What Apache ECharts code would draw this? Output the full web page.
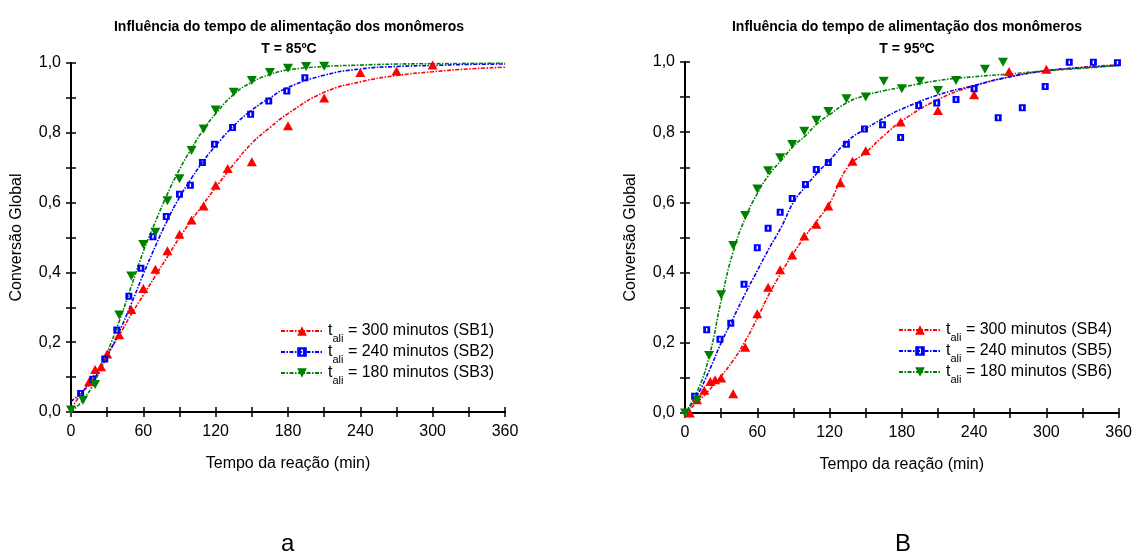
<!DOCTYPE html>
<html>
<head>
<meta charset="utf-8">
<script src="https://cdn.jsdelivr.net/npm/echarts@6/dist/echarts.min.js"></script>
<style>
  html, body { margin: 0; padding: 0; background: #fff; }
  #chart { width: 1135px; height: 560px; }
</style>
</head>
<body>
<div id="chart"></div>
<script>
// ---- dados ----
// T = 85ºC (a)
var t1 = [15, 20, 25, 30, 40, 50, 60, 70, 80, 90, 100, 110, 120, 130, 150, 180, 210, 240, 270, 300];
var v1 = [0.087, 0.122, 0.13, 0.166, 0.221, 0.294, 0.354, 0.409, 0.462, 0.509, 0.55, 0.59, 0.65, 0.698, 0.717, 0.82, 0.90, 0.973, 0.977, 0.994];
var t2 = [8, 18, 28, 38, 48, 58, 68, 79, 90, 99, 109, 119, 134, 149, 164, 179, 194];
var v2 = [0.053, 0.094, 0.152, 0.235, 0.332, 0.412, 0.502, 0.56, 0.624, 0.65, 0.715, 0.767, 0.815, 0.853, 0.891, 0.92, 0.958];
var t3 = [0, 10, 20, 40, 50, 60, 70, 80, 90, 100, 110, 120, 135, 150, 165, 180, 195, 210];
var v3 = [0.006, 0.034, 0.079, 0.278, 0.39, 0.48, 0.515, 0.605, 0.668, 0.749, 0.811, 0.865, 0.916, 0.95, 0.973, 0.985, 0.99, 0.991];

// curvas ajustadas (a)
var tcA = [0, 10, 20, 30, 40, 50, 60, 70, 80, 90, 100, 110, 120, 135, 150, 165, 180, 210, 240, 270, 300, 330, 360];
var c1 = [0.01, 0.06, 0.11, 0.165, 0.22, 0.28, 0.335, 0.39, 0.445, 0.5, 0.55, 0.597, 0.643, 0.71, 0.77, 0.815, 0.855, 0.916, 0.946, 0.964, 0.975, 0.983, 0.988];
var c2 = [0.03, 0.06, 0.1, 0.16, 0.23, 0.31, 0.395, 0.475, 0.55, 0.615, 0.67, 0.72, 0.763, 0.82, 0.865, 0.9, 0.93, 0.965, 0.983, 0.99, 0.993, 0.996, 0.997];
var c3 = [0, 0.035, 0.09, 0.17, 0.26, 0.36, 0.46, 0.545, 0.625, 0.695, 0.755, 0.81, 0.855, 0.91, 0.945, 0.967, 0.98, 0.99, 0.994, 0.997, 0.998, 0.999, 1.0];

// T = 95ºC (B)
var t4 = [4, 10, 16, 21, 25, 30, 40, 50, 60, 69, 79, 89, 99, 109, 119, 129, 139, 150, 179, 210, 240, 269, 300];
var v4 = [0.0, 0.038, 0.065, 0.09, 0.095, 0.10, 0.055, 0.187, 0.283, 0.358, 0.408, 0.45, 0.504, 0.538, 0.59, 0.656, 0.717, 0.747, 0.829, 0.862, 0.907, 0.973, 0.979];
var t5 = [8, 18, 29, 38, 49, 60, 69, 79, 89, 100, 109, 119, 134, 149, 164, 179, 194, 209, 225, 240, 260, 280, 299, 319, 339, 359];
var v5 = [0.048, 0.237, 0.21, 0.256, 0.367, 0.471, 0.526, 0.572, 0.611, 0.651, 0.694, 0.714, 0.766, 0.809, 0.821, 0.785, 0.876, 0.883, 0.893, 0.924, 0.841, 0.870, 0.930, 0.999, 0.999, 0.998];
var t6 = [0, 10, 20, 30, 40, 50, 60, 69, 79, 89, 99, 109, 119, 134, 150, 165, 180, 195, 210, 225, 249, 264];
var v6 = [0.0, 0.038, 0.164, 0.337, 0.477, 0.563, 0.638, 0.69, 0.727, 0.765, 0.803, 0.834, 0.859, 0.895, 0.90, 0.945, 0.924, 0.945, 0.919, 0.947, 0.979, 0.999];

// curvas ajustadas (B)
var tcB = [0, 10, 20, 30, 40, 50, 60, 70, 80, 90, 100, 110, 120, 135, 150, 165, 180, 210, 240, 270, 300, 330, 360];
var c4 = [0, 0.03, 0.065, 0.105, 0.15, 0.205, 0.27, 0.34, 0.40, 0.455, 0.505, 0.55, 0.597, 0.70, 0.742, 0.79, 0.832, 0.893, 0.932, 0.958, 0.975, 0.985, 0.992];
var c5 = [0, 0.05, 0.12, 0.2, 0.27, 0.34, 0.405, 0.47, 0.53, 0.6, 0.645, 0.685, 0.72, 0.775, 0.81, 0.84, 0.866, 0.906, 0.933, 0.958, 0.975, 0.984, 0.99];
var c6 = [0, 0.06, 0.16, 0.32, 0.46, 0.555, 0.625, 0.68, 0.72, 0.76, 0.79, 0.825, 0.85, 0.885, 0.905, 0.918, 0.928, 0.947, 0.958, 0.966, 0.975, 0.982, 0.99];

var xTicks = [0, 60, 120, 180, 240, 300, 360];
var legendA = { SB1: '300 minutos (SB1)', SB2: '240 minutos (SB2)', SB3: '180 minutos (SB3)' };
var legendB = { SB4: '300 minutos (SB4)', SB5: '240 minutos (SB5)', SB6: '180 minutos (SB6)' };

var FONT = "'Liberation Sans', Arial, sans-serif";
var RED = '#ff0000', BLUE = '#0000ff', GREEN = '#008000';
var TRI_UP = 'triangle';
var TRI_DOWN = 'path://M0,0L10,0L5,9Z';
var SQUARE = 'path://M0,0H10V10H0Z M4,2.5V7.5H6V2.5Z';
var DASH = [4, 1.5, 1.5, 1.5];

function pairs(xs, ys) {
  return xs.map(function (x, i) { return [x, ys[i]]; });
}

function xAxes(gi) {
  return [{
    gridIndex: gi, type: 'value', position: 'bottom', min: 0, max: 360, interval: 30,
    name: 'Tempo da reação (min)', nameLocation: 'middle', nameGap: 44,
    nameTextStyle: { fontFamily: FONT, fontSize: 16, color: '#000' },
    axisLine: { lineStyle: { color: '#000', width: 2 } },
    axisTick: { inside: false, length: 5, lineStyle: { color: '#000', width: 1.5 } },
    axisLabel: {
      margin: 12, fontFamily: FONT, fontSize: 16, color: '#000',
      formatter: function (v) { return xTicks.indexOf(v) >= 0 ? String(v) : ''; }
    },
    splitLine: { show: false }
  }, {
    gridIndex: gi, type: 'value', position: 'top', min: 0, max: 360, interval: 30,
    axisLine: { lineStyle: { color: '#000', width: 2 } },
    axisTick: { inside: false, length: 5, lineStyle: { color: '#000', width: 1.5 } },
    axisLabel: { show: false },
    splitLine: { show: false }
  }];
}

function yAxes(gi) {
  return [{
    gridIndex: gi, type: 'value', position: 'left', min: 0, max: 1, interval: 0.1,
    name: 'Conversão Global', nameLocation: 'middle', nameGap: 46, nameRotate: 90,
    nameTextStyle: { fontFamily: FONT, fontSize: 16, color: '#000' },
    axisLine: { lineStyle: { color: '#000', width: 2 } },
    axisTick: { inside: false, length: 5, lineStyle: { color: '#000', width: 1.5 } },
    axisLabel: {
      margin: 10, fontFamily: FONT, fontSize: 16, color: '#000',
      formatter: function (v) {
        var k = Math.round(v * 10);
        return k % 2 === 0 ? (k / 10).toFixed(1).replace('.', ',') : '';
      }
    },
    splitLine: { show: false }
  }, {
    gridIndex: gi, type: 'value', position: 'right', min: 0, max: 1, interval: 0.1,
    axisLine: { lineStyle: { color: '#000', width: 2 } },
    axisTick: { inside: false, length: 5, lineStyle: { color: '#000', width: 1.5 } },
    axisLabel: { show: false },
    splitLine: { show: false }
  }];
}

function curve(name, xi, yi, xs, ys, color, symbol) {
  return {
    name: name, type: 'line', xAxisIndex: xi, yAxisIndex: yi,
    data: pairs(xs, ys), smooth: true, showSymbol: false, symbol: symbol,
    lineStyle: { color: color, width: 1.6, type: DASH },
    itemStyle: { color: color }, silent: true, z: 2
  };
}

function pts(name, xi, yi, xs, ys, color, symbol, size) {
  return {
    name: name, type: 'scatter', xAxisIndex: xi, yAxisIndex: yi,
    data: pairs(xs, ys), symbol: symbol, symbolSize: size,
    itemStyle: { color: color, opacity: 1 }, silent: true, z: 3
  };
}

function legend(names, map, left, top) {
  return {
    data: names, left: left, top: top, orient: 'vertical', padding: 0,
    itemWidth: 42, itemHeight: 12, itemGap: 0, selectedMode: false,
    formatter: function (n) { return '{t|t}{s|ali}{n| = ' + map[n] + '}'; },
    textStyle: {
      fontFamily: FONT, color: '#000',
      rich: {
        t: { fontFamily: FONT, fontSize: 16, lineHeight: 26, color: '#000' },
        s: { fontFamily: FONT, fontSize: 11, lineHeight: 11, verticalAlign: 'bottom', color: '#000' },
        n: { fontFamily: FONT, fontSize: 16, lineHeight: 26, color: '#000' }
      }
    }
  };
}

var chart = echarts.init(document.getElementById('chart'), null, { renderer: 'canvas' });
chart.setOption({
  backgroundColor: '#fff',
  animation: false,
  title: [{
    text: 'Influência do tempo de alimentação dos monômeros\nT = 85ºC',
    left: 289, top: 16, textAlign: 'center', padding: 0,
    textStyle: { fontFamily: FONT, fontSize: 14, fontWeight: 'bold', lineHeight: 22, color: '#000' }
  }, {
    text: 'Influência do tempo de alimentação dos monômeros\nT = 95ºC',
    left: 907, top: 16, textAlign: 'center', padding: 0,
    textStyle: { fontFamily: FONT, fontSize: 14, fontWeight: 'bold', lineHeight: 22, color: '#000' }
  }],
  grid: [
    { left: 71, top: 63, width: 434, height: 349 },
    { left: 685, top: 62, width: 436, height: 351 }
  ],
  xAxis: xAxes(0).concat(xAxes(1)),
  yAxis: yAxes(0).concat(yAxes(1)),
  legend: [
    legend(['SB1', 'SB2', 'SB3'], legendA, 280, 323),
    legend(['SB4', 'SB5', 'SB6'], legendB, 898, 322)
  ],
  series: [
    curve('SB1', 0, 0, tcA, c1, RED, TRI_UP),
    curve('SB2', 0, 0, tcA, c2, BLUE, SQUARE),
    curve('SB3', 0, 0, tcA, c3, GREEN, TRI_DOWN),
    pts('SB1 exp', 0, 0, t1, v1, RED, TRI_UP, [10, 9]),
    pts('SB2 exp', 0, 0, t2, v2, BLUE, SQUARE, 7),
    pts('SB3 exp', 0, 0, t3, v3, GREEN, TRI_DOWN, [10, 9]),
    curve('SB4', 2, 2, tcB, c4, RED, TRI_UP),
    curve('SB5', 2, 2, tcB, c5, BLUE, SQUARE),
    curve('SB6', 2, 2, tcB, c6, GREEN, TRI_DOWN),
    pts('SB4 exp', 2, 2, t4, v4, RED, TRI_UP, [10, 9]),
    pts('SB5 exp', 2, 2, t5, v5, BLUE, SQUARE, 7),
    pts('SB6 exp', 2, 2, t6, v6, GREEN, TRI_DOWN, [10, 9])
  ],
  graphic: [
    { type: 'text', left: 281, top: 532, style: { text: 'a', fontFamily: FONT, fontSize: 24, fill: '#000' } },
    { type: 'text', left: 895, top: 532, style: { text: 'B', fontFamily: FONT, fontSize: 24, fill: '#000' } }
  ]
});
</script>
</body>
</html>
